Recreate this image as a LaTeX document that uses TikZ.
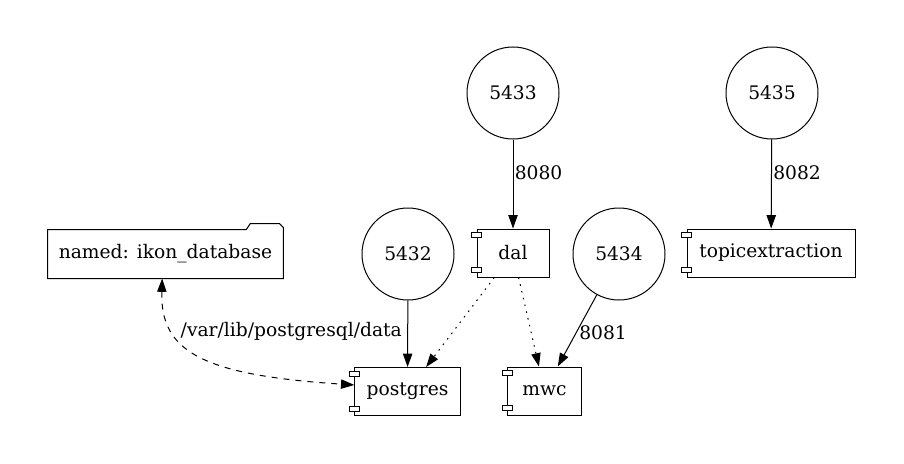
\documentclass[tikz,border=0pt]{standalone}
\usepackage{fontspec}
\setmainfont{DejaVu Serif}
\usetikzlibrary{arrows.meta,positioning}
\tikzset{port node/.style={circle,draw,minimum size=69pt,inner sep=0pt},
  comp node/.style={rectangle,draw,fill=white,minimum height=36pt,inner sep=0pt},
  vol node/.style={rectangle,minimum height=36pt,minimum width=176pt,inner sep=0pt},
  link/.style={-{Triangle[length=10pt,width=7pt]}},
  uses/.style={link,dash pattern=on 1.2pt off 4pt},}

\begin{document}
\begin{tikzpicture}[x=0.75pt,y=-0.75pt,line width=0.75pt,font=\fontsize{14}{16}\selectfont]
    \useasboundingbox (0,0) rectangle (904,464);

    \node[port node] (p5433) at (513,93) {5433};
    \node[port node] (p5435) at (772,93) {5435};
    \node[port node] (p5432) at (408,254) {5432};
    \node[port node] (p5434) at (619,254) {5434};

    \node[vol node] (named) at (165.5,254) {named: ikon\_database};
    \node[comp node,minimum width=54pt] (dal) at (513,253) {dal};
    \node[comp node,minimum width=126pt] (topicextraction) at (771,253) {topicextraction};
    \node[comp node,minimum width=79pt] (postgres) at (407.5,391.5) {postgres};
    \node[comp node,minimum width=55pt] (mwc) at (544.5,391) {mwc};

    % folder outline of the volume
    \draw (named.south west) -- (named.north west) -- ([xshift=-27.75pt]named.north east)
      -- ([xshift=-24.75pt,yshift=4.5pt]named.north east) -- ([xshift=-3pt,yshift=4.5pt]named.north east)
      -- ([yshift=1.5pt]named.north east) -- (named.south east) -- cycle;

    % component tabs
    \foreach \c in {dal,topicextraction,postgres,mwc} {
      \draw[fill=white] ([xshift=-3.75pt,yshift=-3pt]\c.north west) rectangle ++(7.5pt,-3.75pt);
      \draw[fill=white] ([xshift=-3.75pt,yshift=3.75pt]\c.south west) rectangle ++(7.5pt,3.75pt);
    }

    \draw[link] (p5433) -- node[pos=0.37,right,inner sep=1pt] {8080} (dal);
    \draw[link] (p5435) -- node[pos=0.37,right,inner sep=1pt] {8082} (topicextraction);
    \draw[link] (p5432) -- (postgres);
    \draw[link] (p5434) -- node[pos=0.53,right,inner sep=2pt] {8081} (mwc);
    \draw[uses] (dal) -- (postgres);
    \draw[uses] (dal) -- (mwc);

    \draw[{Triangle[length=10pt,width=7pt]}-{Triangle[length=10pt,width=7pt]},dash pattern=on 4.5pt off 4.5pt]
      ([xshift=-2.5pt]named.south) .. controls +(-1.5pt,-54pt) and +(-116pt,7.5pt) .. ([yshift=4.9pt]postgres.west)
      node[pos=0.3,right,inner sep=5pt] {/var/lib/postgresql/data};
\end{tikzpicture}
\end{document}
